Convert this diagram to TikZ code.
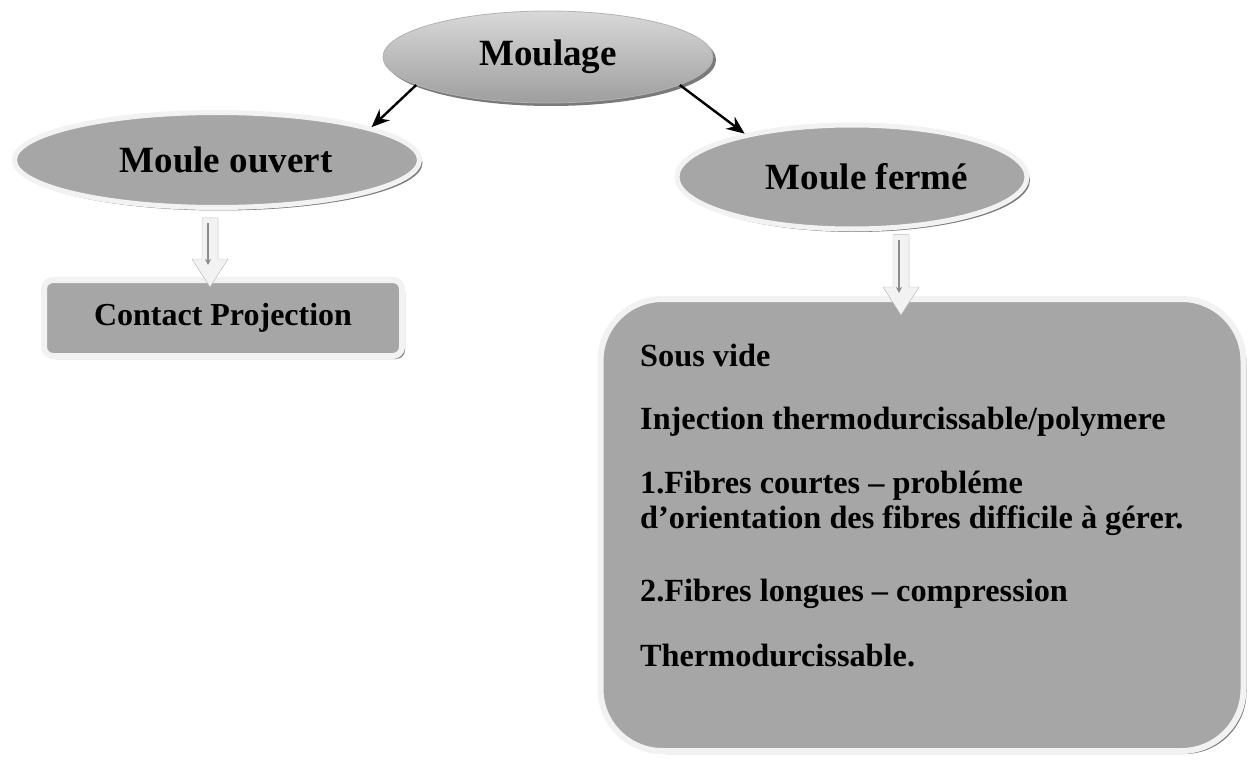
\documentclass[tikz,border=0pt]{standalone}
\usepackage{fontspec}
\setmainfont{Liberation Serif}
\usetikzlibrary{shapes.geometric,shadows,arrows.meta,calc}

\definecolor{boxgray}{HTML}{A6A6A6}
\definecolor{rimgray}{HTML}{F2F2F2}
\definecolor{shadegray}{HTML}{7A7A7A}

\tikzset{
  softshadow/.style={drop shadow={shadow xshift=3pt,shadow yshift=-3pt,fill=shadegray,opacity=1}},
  oval/.style={ellipse,inner sep=0pt,fill=boxgray,draw=rimgray,line width=5pt,softshadow,
    font=\fontsize{37}{42}\selectfont\bfseries},
  topoval/.style={ellipse,inner sep=0pt,top color=black!15,bottom color=black!38,
    draw=black!30,line width=0.8pt,softshadow,font=\fontsize{37}{42}\selectfont\bfseries},
  panel/.style={rectangle,inner sep=0pt,fill=boxgray,draw=rimgray,line width=6pt,softshadow},
  bodytext/.style={anchor=base west,inner sep=0pt,font=\fontsize{32.3}{38}\selectfont\bfseries},
  link/.style={line width=2.4pt,-{Stealth[length=18pt,width=15pt]}}
}

% hollow downward arrow: shaft top at #1, tip at the height of #2
\newcommand\hollowdown[2]{%
  \fill[shadegray,xshift=3pt,yshift=-3pt] let \p1=(#1), \p2=(#2) in
    (\x1-8pt,\y1) -- (\x1-8pt,\y2+28pt) -- (\x1-18pt,\y2+28pt) -- (\x1,\y2)
    -- (\x1+18pt,\y2+28pt) -- (\x1+8pt,\y2+28pt) -- (\x1+8pt,\y1) -- cycle;
  \filldraw[fill=rimgray,draw=black!25,line width=0.4pt] let \p1=(#1), \p2=(#2) in
    (\x1-8pt,\y1) -- (\x1-8pt,\y2+28pt) -- (\x1-18pt,\y2+28pt) -- (\x1,\y2)
    -- (\x1+18pt,\y2+28pt) -- (\x1+8pt,\y2+28pt) -- (\x1+8pt,\y1) -- cycle;
  \draw[black!45,line width=1.3pt,-{Stealth[length=6pt,width=6pt]}] let \p1=(#1), \p2=(#2) in
    (\x1-2pt,\y1-5pt) -- (\x1-2pt,\y2+22pt);
}

\begin{document}
\begin{tikzpicture}[x=1pt,y=-1pt]
\useasboundingbox (0,0) rectangle (1254,765);

% top-level node
\node[topoval,minimum width=330pt,minimum height=92pt] (moulage) at (548,57) {Moulage};

% the two kinds of mould
\node[oval,minimum width=405pt,minimum height=95pt] (ouvert) at (217,160) {\hspace{18pt}Moule ouvert};
\node[oval,minimum width=350pt,minimum height=104pt] (ferme) at (852,177) {\hspace{30pt}Moule fermé};

% processes
\node[panel,rounded corners=9pt,minimum width=358pt,minimum height=76pt,
      font=\fontsize{32}{38}\selectfont\bfseries] (contact) at (223,318) {Contact Projection};
\node[panel,rounded corners=62pt,minimum width=643pt,minimum height=452pt] (ferproc) at (922,525) {};

\node[bodytext] (l1) at (640,366) {Sous vide};
\node[bodytext] (l2) at (640,429) {Injection thermodurcissable/polymere};
\node[bodytext] (l3) at (640,493) {1.Fibres courtes – probléme};
\node[bodytext] (l4) at (640,528) {d’orientation des fibres difficile à gérer.};
\node[bodytext] (l5) at (640,601) {2.Fibres longues – compression};
\node[bodytext] (l6) at (640,666) {Thermodurcissable.};

% connectors
\draw[link] (moulage.192) -- (ouvert.12);
\draw[link] (moulage.348) -- (ferme.158);

\coordinate (a1s) at ($(ouvert.south)+(-7,8)$);
\coordinate (a1t) at ($(contact.north)+(0,10)$);
\hollowdown{a1s}{a1t}

\coordinate (a2s) at ($(ferme.south)+(49,3)$);
\coordinate (a2t) at ($(ferproc.north)+(0,19)$);
\hollowdown{a2s}{a2t}
\end{tikzpicture}
\end{document}
